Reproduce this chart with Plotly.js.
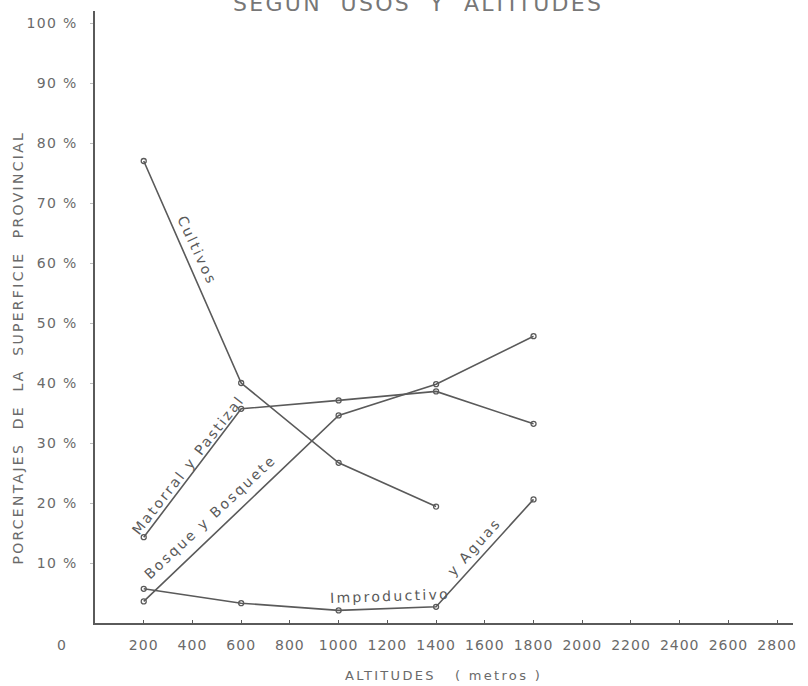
<!DOCTYPE html>
<html>
<head>
<meta charset="utf-8">
<script src="https://cdn.plot.ly/plotly-3.0.1.min.js"></script>
<style>
html,body{margin:0;padding:0;background:#fff;}
#chart{width:808px;height:686px;}
.annotation-text{letter-spacing:2.3px;}
.xtick text{letter-spacing:1px;}
.ytick text{letter-spacing:1.3px;}
</style>
</head>
<body>
<div id="chart"></div>
<script>
const altitudes = [200, 600, 1000, 1400, 1800];
const cultivos = [77, 40, 26.7, 19.4, null];
const matorral = [14.3, 35.7, 37.1, 38.6, 33.2];
const bosque = [3.6, null, 34.6, 39.8, 47.8];
const improductivo = [5.7, 3.3, 2.1, 2.7, 20.6];

const xTicks = [200, 400, 600, 800, 1000, 1200, 1400, 1600, 1800, 2000, 2200, 2400, 2600, 2800];
const yTicks = [10, 20, 30, 40, 50, 60, 70, 80, 90, 100];
const yTickText = yTicks.map(v => v + ' %');

const lineColor = '#5a5a5a';
const textColor = '#6a6a6a';
const fontFam = 'DejaVu Sans, sans-serif';

function series(name, y) {
  return {
    x: altitudes, y: y, name: name, type: 'scatter', mode: 'lines+markers',
    connectgaps: true,
    line: {color: lineColor, width: 1.6},
    marker: {symbol: 'circle-open', size: 5, color: lineColor, line: {width: 1.3, color: lineColor}},
    hoverinfo: 'x+y+name'
  };
}

const data = [
  series('Cultivos', cultivos),
  series('Matorral y Pastizal', matorral),
  series('Bosque y Bosquete', bosque),
  series('Improductivo y Aguas', improductivo)
];

const lab = (text, x, y, angle, xs, ys) => ({
  text: text, x: x, y: y, xref: 'x', yref: 'y', showarrow: false,
  textangle: angle, xshift: xs, yshift: ys,
  font: {family: fontFam, size: 14, color: lineColor}
});

const layout = {
  width: 808, height: 686,
  margin: {l: 95, r: 15, t: 11, b: 63},
  paper_bgcolor: '#ffffff', plot_bgcolor: '#ffffff',
  showlegend: false,
  xaxis: {
    range: [0, 2865], tickvals: xTicks, ticktext: xTicks.map(String),
    showgrid: false, zeroline: false, showline: true, linecolor: lineColor, linewidth: 1.6,
    ticks: 'inside', ticklen: 3, tickcolor: lineColor,
    tickfont: {family: fontFam, size: 14, color: textColor},
    ticklabelstandoff: 9
  },
  yaxis: {
    range: [0, 102], tickvals: yTicks, ticktext: yTickText,
    showgrid: false, zeroline: false, showline: true, linecolor: lineColor, linewidth: 1.6,
    ticks: 'outside', ticklen: 3, tickcolor: '#bbb',
    tickfont: {family: fontFam, size: 14, color: textColor},
    ticklabelstandoff: 10
  },
  annotations: [
    {text: 'SEGUN  USOS  Y  ALTITUDES', xref: 'paper', yref: 'paper', x: 0.463, y: 1,
     xanchor: 'center', yanchor: 'middle', yshift: 8, showarrow: false,
     font: {family: fontFam, size: 22, color: '#777'}},
    {text: 'PORCENTAJES  DE  LA  SUPERFICIE  PROVINCIAL', xref: 'paper', yref: 'paper',
     x: 0, y: 0.45, xanchor: 'center', yanchor: 'middle', xshift: -77, showarrow: false,
     textangle: -90, font: {family: fontFam, size: 14, color: textColor}},
    {text: 'ALTITUDES   ( metros )', xref: 'paper', yref: 'paper', x: 0.4986, y: 0,
     xanchor: 'center', yanchor: 'middle', yshift: -52, showarrow: false,
     font: {family: fontFam, size: 13, color: textColor}},
    {text: '0', xref: 'paper', yref: 'paper', x: 0, y: 0, xanchor: 'center', yanchor: 'middle',
     xshift: -33, yshift: -22, showarrow: false,
     font: {family: fontFam, size: 14, color: textColor}},
    lab('Cultivos', 402, 61.8, 65, 4, 2),
    lab('Matorral y Pastizal', 390, 26, -52, -2, 2),
    lab('Bosque y Bosquete', 484, 17.2, -43, -3, 3),
    lab('Improductivo', 1211, 4.3, -2, 0, 1),
    lab('y Aguas', 1572, 12.2, -48, -4, 3)
  ]
};

Plotly.newPlot('chart', data, layout, {displayModeBar: false, staticPlot: true});
</script>
</body>
</html>
